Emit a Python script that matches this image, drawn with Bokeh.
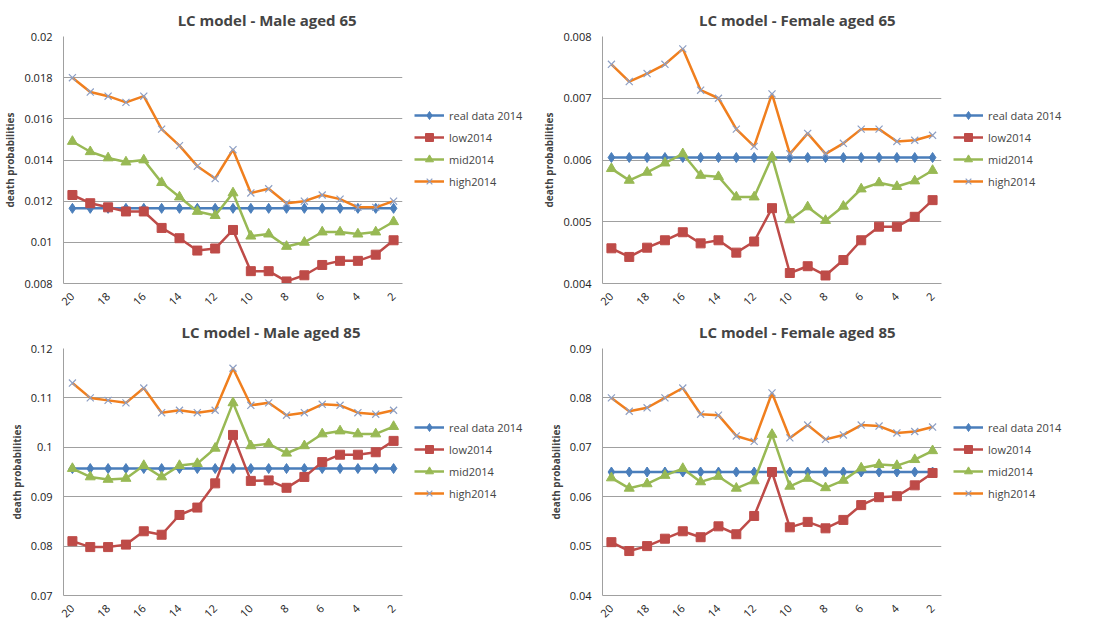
from bokeh.plotting import figure
from bokeh.layouts import gridplot
from bokeh.models import Legend, LegendItem, FixedTicker
from bokeh.embed import file_html
from bokeh.resources import INLINE
import math

years = list(range(20, 1, -1))

# Male aged 65
m65_real = [0.01165] * 19
m65_low = [.0123, .0119, .0117, .0115, .0115, .0107, .0102, .0096, .0097, .0106, .0086, .0086, .0081, .0084, .0089, .0091, .0091, .0094, .0101]
m65_mid = [.0149, .0144, .0141, .0139, .0140, .0129, .0122, .0115, .0113, .0124, .0103, .0104, .0098, .0100, .0105, .0105, .0104, .0105, .0110]
m65_high = [.0180, .0173, .0171, .0168, .0171, .0155, .0147, .0137, .0131, .0145, .0124, .0126, .0119, .0120, .0123, .0121, .0117, .0117, .0120]

# Female aged 65
f65_real = [0.00604] * 19
f65_low = [.00457, .00443, .00458, .0047, .00483, .00465, .0047, .0045, .00468, .00522, .00417, .00428, .00413, .00438, .0047, .00492, .00492, .00508, .00535]
f65_mid = [.00586, .00567, .0058, .00595, .0061, .00575, .00573, .0054, .0054, .00605, .00503, .00524, .00502, .00525, .00553, .00563, .00557, .00566, .00583]
f65_high = [.00755, .00727, .0074, .00755, .0078, .00713, .0070, .0065, .00622, .00707, .0061, .00643, .0061, .00627, .0065, .0065, .0063, .00632, .0064]

# Male aged 85
m85_real = [0.0957] * 19
m85_low = [.081, .0798, .0798, .0803, .0830, .0823, .0863, .0878, .0927, .1025, .0932, .0933, .0918, .0940, .0970, .0985, .0985, .099, .1013]
m85_mid = [.0957, .094, .0935, .0937, .0963, .094, .0963, .0967, .0998, .109, .1003, .1007, .0988, .1003, .1027, .1033, .1027, .1027, .1042]
m85_high = [.113, .110, .1095, .109, .112, .107, .1075, .107, .1075, .116, .1085, .109, .1065, .107, .1087, .1085, .107, .1067, .1075]

# Female aged 85
f85_real = [0.065] * 19
f85_low = [.0508, .0490, .0500, .0515, .0530, .0518, .0540, .0524, .0561, .0650, .0538, .0549, .0536, .0553, .0583, .0599, .0601, .0623, .0648]
f85_mid = [.0638, .0617, .0626, .0643, .0657, .0630, .0641, .0617, .0632, .0726, .0621, .0637, .0618, .0633, .0658, .0665, .0663, .0675, .0693]
f85_high = [.080, .0773, .078, .080, .082, .0767, .0765, .0723, .0712, .081, .0719, .0745, .0716, .0725, .0745, .0743, .0729, .0732, .0741]

labels = ["real data 2014", "low2014", "mid2014", "high2014"]

FONT = "Open Sans"
BLUE, RED, GREEN, ORANGE, XGRAY = "#4a7ebb", "#be4b48", "#98b954", "#f07f1e", "#8d9fc4"


def draw_series(p, real, low, mid, high):
    out = []
    l1 = p.line(years, real, color=BLUE, line_width=2.5)
    m1 = p.scatter(years, real, marker="diamond", size=10, color=BLUE)
    out.append([l1, m1])
    l2 = p.line(years, low, color=RED, line_width=2.5)
    m2 = p.scatter(years, low, marker="square", size=9, color=RED)
    out.append([l2, m2])
    l3 = p.line(years, mid, color=GREEN, line_width=2.5)
    m3 = p.scatter(years, mid, marker="triangle", size=10, color=GREEN)
    out.append([l3, m3])
    l4 = p.line(years, high, color=ORANGE, line_width=2.5)
    m4 = p.scatter(years, high, marker="x", size=10, line_color=XGRAY, line_width=1.2)
    out.append([l4, m4])
    return out


def make_panel(title, real, low, mid, high, yticks, ylabels):
    p = figure(width=410, height=312, output_backend="svg", toolbar_location=None,
               x_range=(20.5, 1.5), y_range=(yticks[0], yticks[-1]),
               min_border_left=5, min_border_right=8, min_border_top=12, min_border_bottom=0)
    p.title.text = title
    p.title.align = "right"
    p.title.offset = 42
    p.title.text_font = FONT
    p.title.text_font_size = "15px"
    p.title.text_font_style = "bold"
    p.title.standoff = 14
    p.outline_line_color = None
    p.xgrid.grid_line_color = None
    p.ygrid.grid_line_color = "#a0a0a0"
    p.ygrid.ticker = FixedTicker(ticks=yticks)

    p.xaxis.ticker = FixedTicker(ticks=list(range(20, 1, -2)))
    p.xaxis.major_label_orientation = math.pi / 4
    p.yaxis.ticker = FixedTicker(ticks=yticks)
    p.yaxis.major_label_overrides = dict(zip(yticks, ylabels))
    for ax in (p.xaxis, p.yaxis):
        ax.axis_line_color = "#a0a0a0"
        ax.major_tick_line_color = None
        ax.minor_tick_line_color = None
        ax.major_label_text_font = FONT
        ax.major_label_text_font_size = "11px"
        ax.major_label_text_color = "#222222"
    p.yaxis.axis_label = "death probabilities"
    p.yaxis.axis_label_text_font = FONT
    p.yaxis.axis_label_text_font_size = "10px"
    p.yaxis.axis_label_text_font_style = "bold"
    p.yaxis.axis_label_standoff = 4
    draw_series(p, real, low, mid, high)

    # legend lives in its own narrow figure beside the chart
    q = figure(width=129, height=312, output_backend="svg", toolbar_location=None,
               x_range=(100, 101), y_range=(100, 101), x_axis_type=None, y_axis_type=None,
               min_border=0)
    q.outline_line_color = None
    q.xgrid.grid_line_color = None
    q.ygrid.grid_line_color = None
    rs = draw_series(q, real, low, mid, high)
    items = [LegendItem(label=lab, renderers=r) for lab, r in zip(labels, rs)]
    leg = Legend(items=items, border_line_color=None, background_fill_alpha=0,
                 label_text_font=FONT, label_text_font_size="11px",
                 spacing=2, glyph_width=30, padding=0, margin=0, location=(4, 92))
    q.add_layout(leg)
    return p, q


p1, q1 = make_panel("LC model  - Male aged 65", m65_real, m65_low, m65_mid, m65_high,
                    [0.008, 0.010, 0.012, 0.014, 0.016, 0.018, 0.020],
                    ["0.008", "0.01", "0.012", "0.014", "0.016", "0.018", "0.02"])
p2, q2 = make_panel("LC model -  Female aged 65", f65_real, f65_low, f65_mid, f65_high,
                    [0.004, 0.005, 0.006, 0.007, 0.008],
                    ["0.004", "0.005", "0.006", "0.007", "0.008"])
p3, q3 = make_panel("LC model - Male aged 85", m85_real, m85_low, m85_mid, m85_high,
                    [0.07, 0.08, 0.09, 0.10, 0.11, 0.12],
                    ["0.07", "0.08", "0.09", "0.1", "0.11", "0.12"])
p4, q4 = make_panel("LC model -  Female aged 85", f85_real, f85_low, f85_mid, f85_high,
                    [0.04, 0.05, 0.06, 0.07, 0.08, 0.09],
                    ["0.04", "0.05", "0.06", "0.07", "0.08", "0.09"])

grid = gridplot([[p1, q1, p2, q2], [p3, q3, p4, q4]], toolbar_location=None)
open("out.html", "w").write(file_html(grid, INLINE))
